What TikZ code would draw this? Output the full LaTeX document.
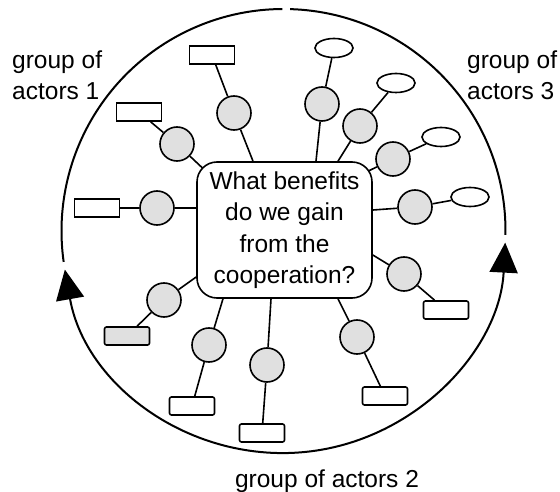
\documentclass[tikz,border=0pt]{standalone}
\usepackage{fontspec}
\setmainfont{Liberation Sans}
\usetikzlibrary{arrows.meta,shapes.geometric,backgrounds}
\tikzset{
  hub/.style={circle, draw, line width=1.6pt, fill=black!12,
    minimum size=34pt, inner sep=0pt},
  card/.style={rectangle, draw, line width=1.6pt, fill=white,
    minimum width=45pt, minimum height=18pt, inner sep=0pt},
  lowcard/.style={card, rounded corners=2pt},
  tag/.style={ellipse, draw, line width=1.6pt, fill=white,
    minimum width=38pt, minimum height=19pt, inner sep=0pt},
  ask/.style={rectangle, rounded corners=20pt, draw, line width=1.6pt,
    fill=white, minimum width=175pt, minimum height=136pt,
    align=center, font=\fontsize{24.5}{31.5}\selectfont},
  spoke/.style={line width=1.6pt},
  ring/.style={line width=2pt},
  gname/.style={font=\fontsize{24.5}{31.5}\selectfont, align=left, inner sep=0pt}
}

\begin{document}
\begin{tikzpicture}[x=1pt, y=-1pt]
  \useasboundingbox (0,0) rectangle (560,492);

  % --- ring of the three groups
  \coordinate (o) at (283.5,231);
  \draw[ring] ([shift={(90.3:222pt)}]o) arc[start angle=90.3, end angle=188, radius=222pt];
  \draw[ring] ([shift={(88.3:222pt)}]o) arc[start angle=88.3, end angle=-1, radius=222pt];
  \draw[ring, {Triangle[length=30pt,width=28pt]}-{Triangle[length=30pt,width=28pt]}]
    ([shift={(190:222pt)}]o) arc[start angle=190, end angle=357, radius=222pt];

  % --- central question
  \node[ask] (q) at (284.5,230) {What benefits\\do we gain\\from the\\cooperation?};

  % --- actors
  \node[hub] (p1)  at (234,113) {};
  \node[hub] (p2)  at (177,144) {};
  \node[hub] (p3)  at (157,208) {};
  \node[hub] (p4)  at (322,104) {};
  \node[hub] (p5)  at (360,126) {};
  \node[hub] (p6)  at (393,159) {};
  \node[hub] (p7)  at (415,207) {};
  \node[hub] (p8)  at (404,274) {};
  \node[hub] (p9)  at (357,337) {};
  \node[hub] (p10) at (267,365) {};
  \node[hub] (p11) at (209,345) {};
  \node[hub] (p12) at (164,300) {};

  \node[card] (r1) at (212,55)  {};
  \node[card] (r2) at (139,112) {};
  \node[card] (r3) at (97,208)  {};
  \node[tag]  (r4) at (334,48)  {};
  \node[tag]  (r5) at (396,83)  {};
  \node[tag]  (r6) at (441,137) {};
  \node[tag]  (r7) at (470,197) {};
  \node[lowcard] (r8)  at (446,310) {};
  \node[lowcard] (r9)  at (385,396) {};
  \node[lowcard] (r10) at (262,433) {};
  \node[lowcard] (r11) at (192,406) {};
  \node[lowcard, fill=black!12] (r12) at (127,336) {};

  % --- group names
  \node[gname, anchor=base west] (g1) at (12,100)  {group of\\actors 1};
  \node[gname, anchor=base west] (g3) at (467,100) {group of\\actors 3};
  \node[gname, anchor=base]      (g2) at (327,487) {group of actors 2};

  % --- spokes
  \begin{scope}[on background layer]
    \draw[spoke] ([xshift=-31.5pt]q.north)           -- (p1)  -- (r1);
    \draw[spoke] ([shift={(15pt,-15pt)}]q.north west) -- (p2)  -- (r2);
    \draw[spoke] ([yshift=22pt]q.west)               -- (p3)  -- (r3);
    \draw[spoke] ([xshift=31.5pt]q.north)            -- (p4)  -- (r4);
    \draw[spoke] ([xshift=53.5pt]q.north)            -- (p5)  -- (r5);
    \draw[spoke] ([shift={(-15pt,-15pt)}]q.north east) -- (p6) -- (r6);
    \draw[spoke] ([yshift=20pt]q.east)               -- (p7)  -- (r7);
    \draw[spoke] ([yshift=-25pt]q.east)              -- (p8)  -- (r8);
    \draw[spoke] ([xshift=53.5pt]q.south)            -- (p9)  -- (r9);
    \draw[spoke] ([xshift=-13.5pt]q.south)           -- (p10) -- (r10);
    \draw[spoke] ([xshift=-61.5pt]q.south)           -- (p11) -- (r11);
    \draw[spoke] ([yshift=-47pt]q.west)              -- (p12) -- (r12);
  \end{scope}
\end{tikzpicture}
\end{document}
